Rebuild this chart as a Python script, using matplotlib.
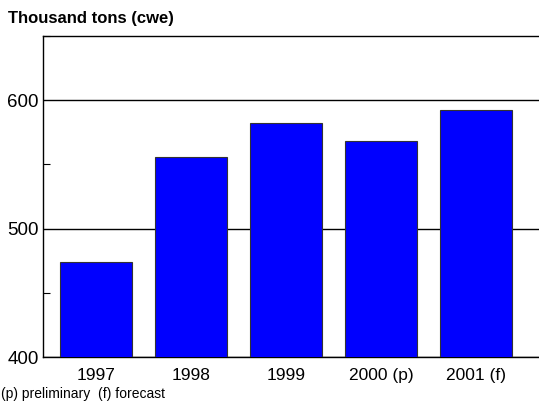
import numpy as np
import matplotlib
matplotlib.use("Agg")
import matplotlib.pyplot as plt
from matplotlib.ticker import MultipleLocator

years = ["1997", "1998", "1999", "2000 (p)", "2001 (f)"]
values = [474, 556, 582, 568, 592]

plt.rcParams['font.family'] = ['Liberation Sans', 'DejaVu Sans']

fig = plt.figure(figsize=(5.39, 4.05), dpi=100)
ax = fig.add_axes([43 / 539, 1 - 357 / 405, 1 - 43 / 539 + 0.01, (357 - 36) / 405])

x = np.arange(len(years))
ax.bar(x, values, width=0.76, color='#0000ff', edgecolor='#333333', linewidth=0.8, zorder=3)

ax.set_ylim(400, 650)
ax.set_xlim(-0.56, 4.72)
ax.set_yticks([400, 500, 600])
ax.yaxis.set_minor_locator(MultipleLocator(50))
ax.grid(axis='y', which='major', color='black', linewidth=1, zorder=1)
ax.set_xticks(x)
ax.set_xticklabels(years)
ax.tick_params(axis='x', direction='in', length=6, width=0.8, pad=8, labelsize=12.5)
ax.tick_params(axis='y', which='major', length=0, pad=3, labelsize=13.5)
ax.tick_params(axis='y', which='minor', direction='in', length=5, width=0.8)
ax.spines['right'].set_visible(False)
for s in ['left', 'bottom', 'top']:
    ax.spines[s].set_linewidth(1)

for lbl in ax.get_xticklabels() + ax.get_yticklabels():
    lbl.set_zorder(5)

fig.text(8 / 539, 1 - 19 / 405, "Thousand tons (cwe)", fontsize=12, fontweight='bold',
         va='center', ha='left')
fig.text(1 / 539, 1 - 394 / 405, "(p) preliminary  (f) forecast", fontsize=10,
         va='center', ha='left')

fig.savefig("out.png", dpi=100)
